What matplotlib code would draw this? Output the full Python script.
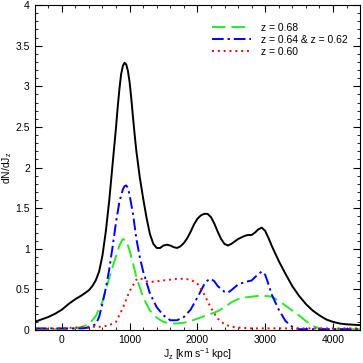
import matplotlib
matplotlib.use("Agg")
import matplotlib.pyplot as plt
from matplotlib.ticker import MultipleLocator, FormatStrFormatter

plt.rcParams['font.family'] = ['Liberation Sans', 'DejaVu Sans']
plt.rcParams['mathtext.fontset'] = 'custom'
plt.rcParams['mathtext.rm'] = 'Liberation Sans'
plt.rcParams['mathtext.it'] = 'Liberation Sans'

# total distribution (black)
jz_total = [-400, -300, -200, -100, 0, 100, 200, 300, 400, 450, 500, 550, 600, 650,
            700, 750, 800, 825, 850, 875, 900, 925, 950, 975, 1000, 1025, 1050,
            1075, 1100, 1150, 1200, 1250, 1300, 1350, 1400, 1450, 1500, 1550, 1600,
            1650, 1700, 1750, 1800, 1850, 1900, 1950, 2000, 2050, 2100, 2150, 2200,
            2250, 2300, 2350, 2400, 2450, 2500, 2550, 2600, 2700, 2750, 2800, 2850,
            2900, 2950, 3000, 3050, 3100, 3200, 3300, 3400, 3500, 3600, 3700, 3800,
            3900, 4000, 4100, 4200, 4300, 4400]
dn_total = [0.10, 0.13, 0.16, 0.20, 0.25, 0.32, 0.38, 0.43, 0.49, 0.54, 0.61, 0.72,
            0.92, 1.22, 1.60, 2.05, 2.50, 2.75, 2.97, 3.15, 3.25, 3.29, 3.27, 3.19,
            3.05, 2.85, 2.62, 2.40, 2.20, 1.88, 1.62, 1.38, 1.18, 1.06, 1.01, 1.01,
            1.04, 1.05, 1.04, 1.02, 1.01, 1.03, 1.07, 1.13, 1.21, 1.30, 1.37, 1.41,
            1.43, 1.43, 1.39, 1.31, 1.21, 1.12, 1.06, 1.04, 1.06, 1.09, 1.12, 1.16,
            1.17, 1.17, 1.20, 1.24, 1.26, 1.22, 1.13, 1.03, 0.85, 0.69, 0.54, 0.42,
            0.32, 0.24, 0.18, 0.13, 0.10, 0.08, 0.07, 0.065, 0.06]

# z = 0.68 (green dashed)
jz_068 = [-400, -200, 0, 100, 200, 300, 400, 500, 600, 700, 750, 800, 850, 900,
          950, 1000, 1050, 1100, 1200, 1300, 1400, 1500, 1600, 1700, 1800, 1900,
          2000, 2100, 2200, 2300, 2400, 2500, 2600, 2700, 2800, 2900, 3000, 3100,
          3200, 3300, 3400, 3500, 3600, 3700, 3800, 3900, 4400]
dn_068 = [0.01, 0.01, 0.01, 0.01, 0.02, 0.04, 0.07, 0.17, 0.35, 0.64, 0.78, 0.91,
          1.04, 1.12, 1.10, 0.98, 0.82, 0.65, 0.40, 0.24, 0.15, 0.10, 0.08, 0.08,
          0.09, 0.11, 0.14, 0.17, 0.20, 0.23, 0.28, 0.34, 0.38, 0.40, 0.41, 0.42,
          0.42, 0.41, 0.36, 0.30, 0.24, 0.18, 0.11, 0.05, 0.02, 0.01, 0.01]

# z = 0.64 & z = 0.62 (blue dash-dot)
jz_064 = [-400, 0, 200, 300, 400, 500, 550, 600, 650, 700, 750, 800, 850, 900,
          925, 950, 975, 1000, 1050, 1100, 1150, 1200, 1300, 1400, 1500, 1600,
          1700, 1800, 1900, 2000, 2100, 2150, 2200, 2250, 2300, 2400, 2450, 2500,
          2600, 2700, 2800, 2900, 2950, 3000, 3050, 3100, 3200, 3300, 3400, 3500,
          4400]
dn_064 = [0.02, 0.02, 0.02, 0.02, 0.03, 0.07, 0.16, 0.33, 0.52, 0.75, 1.03, 1.33,
          1.58, 1.73, 1.77, 1.78, 1.75, 1.66, 1.43, 1.12, 0.90, 0.72, 0.45, 0.28,
          0.18, 0.12, 0.12, 0.16, 0.25, 0.40, 0.56, 0.61, 0.63, 0.60, 0.54, 0.47,
          0.46, 0.49, 0.56, 0.59, 0.61, 0.69, 0.72, 0.68, 0.56, 0.43, 0.25, 0.11,
          0.04, 0.01, 0.01]

# z = 0.60 (red dotted)
jz_060 = [-400, 0, 200, 400, 600, 700, 800, 900, 1000, 1100, 1150, 1250, 1300,
          1400, 1500, 1600, 1700, 1800, 1900, 2000, 2100, 2200, 2300, 2400, 2500,
          2600, 2800, 4400]
dn_060 = [0.01, 0.02, 0.03, 0.04, 0.04, 0.06, 0.10, 0.27, 0.48, 0.62, 0.64, 0.60,
          0.59, 0.60, 0.61, 0.62, 0.63, 0.63, 0.62, 0.57, 0.44, 0.27, 0.14, 0.07,
          0.04, 0.03, 0.02, 0.02]

fig = plt.figure(figsize=(3.63, 3.63), dpi=100)
ax = fig.add_axes([0.0956, 0.0909, 0.8964, 0.895])

ax.plot(jz_total, dn_total, color='black', lw=1.4)
ax.plot(jz_068, dn_068, color='#22ee22', lw=1.4, ls=(0, (7, 3)), label='z = 0.68')
ax.plot(jz_064, dn_064, color='blue', lw=1.4, ls=(0, (6, 2, 1.2, 2)),
        label='z = 0.64 & z = 0.62')
ax.plot(jz_060, dn_060, color='red', lw=1.4, ls=(0, (1, 2)), label='z = 0.60')

ax.set_xlim(-400, 4400)
ax.set_ylim(0, 4)
ax.xaxis.set_major_locator(MultipleLocator(1000))
ax.xaxis.set_minor_locator(MultipleLocator(200))
ax.yaxis.set_major_locator(MultipleLocator(0.5))
ax.yaxis.set_minor_locator(MultipleLocator(0.1))
ax.yaxis.set_major_formatter(FormatStrFormatter('%g'))
ax.tick_params(which='both', direction='in', top=True, right=True, labelsize=7.5)
ax.tick_params(which='major', length=5, width=0.8)
ax.tick_params(which='minor', length=2.5, width=0.6)

ax.set_xlabel(r'J$_z$ [km s$^{-1}$ kpc]', fontsize=7.5, labelpad=1)
ax.set_ylabel(r'dN/dJ$_z$', fontsize=7.5, labelpad=1)

ax.legend(loc='upper right', bbox_to_anchor=(0.99, 0.975), frameon=False,
          fontsize=7.5, handlelength=3.8, handletextpad=0.9, labelspacing=0.2)

fig.savefig('out.png', dpi=100)
